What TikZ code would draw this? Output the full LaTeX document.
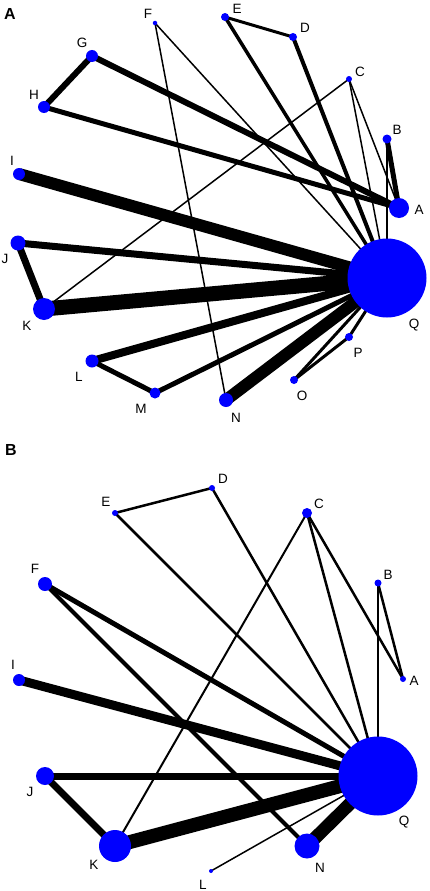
\documentclass[tikz,border=0pt]{standalone}
\usepackage{fontspec}
\setmainfont{Liberation Sans}
\begin{document}
\begin{tikzpicture}[x=1pt,y=-1pt,
  nd/.style={circle,fill={rgb,255:red,0;green,0;blue,255},inner sep=0pt,minimum size=#1},
  lbl/.style={font=\fontsize{13.5}{13.5}\selectfont,inner sep=0pt},
  plbl/.style={font=\fontsize{16}{16}\selectfont\bfseries,inner sep=0pt},
  ed/.style={line width=#1,black}]
\useasboundingbox (0,0) rectangle (429,891);
% ---------------- Panel A ----------------
\node[plbl] (pA) at (10,14) {A};
\coordinate (aA) at (399,208);
\coordinate (aB) at (387,139);
\coordinate (aC) at (349,79);
\coordinate (aD) at (293,37);
\coordinate (aE) at (225,17);
\coordinate (aF) at (155,23);
\coordinate (aG) at (92,56);
\coordinate (aH) at (44,107);
\coordinate (aI) at (19,174);
\coordinate (aJ) at (18,243);
\coordinate (aK) at (44,309);
\coordinate (aL) at (92,361);
\coordinate (aM) at (155,393);
\coordinate (aN) at (226,400);
\coordinate (aO) at (294,380);
\coordinate (aP) at (349,337);
\coordinate (aQ) at (387,278);
\draw[ed=1.5] (aF) -- (aN);
\draw[ed=1.5] (aF) -- (aQ);
\draw[ed=1.5] (aC) -- (aK);
\draw[ed=1.5] (aC) -- (aQ);
\draw[ed=1.5] (aC) -- (aA);
\draw[ed=6] (aG) -- (aH);
\draw[ed=6] (aG) -- (aA);
\draw[ed=5] (aH) -- (aA);
\draw[ed=3] (aE) -- (aD);
\draw[ed=3.5] (aE) -- (aQ);
\draw[ed=4] (aD) -- (aQ);
\draw[ed=5] (aB) -- (aA);
\draw[ed=2] (aB) -- (aQ);
\draw[ed=12] (aI) -- (aQ);
\draw[ed=7] (aJ) -- (aQ);
\draw[ed=7] (aJ) -- (aK);
\draw[ed=15] (aK) -- (aQ);
\draw[ed=8] (aL) -- (aQ);
\draw[ed=5] (aL) -- (aM);
\draw[ed=5] (aM) -- (aQ);
\draw[ed=12] (aN) -- (aQ);
\draw[ed=3] (aO) -- (aP);
\draw[ed=3] (aO) -- (aQ);
\draw[ed=3] (aP) -- (aQ);
\node[nd=20pt] (nA) at (aA) {};
\node[nd=9pt] (nB) at (aB) {};
\node[nd=6pt] (nC) at (aC) {};
\node[nd=8pt] (nD) at (aD) {};
\node[nd=8pt] (nE) at (aE) {};
\node[nd=4.5pt] (nF) at (aF) {};
\node[nd=12pt] (nG) at (aG) {};
\node[nd=12pt] (nH) at (aH) {};
\node[nd=12pt] (nI) at (aI) {};
\node[nd=15pt] (nJ) at (aJ) {};
\node[nd=22pt] (nK) at (aK) {};
\node[nd=13pt] (nL) at (aL) {};
\node[nd=11pt] (nM) at (aM) {};
\node[nd=14pt] (nN) at (aN) {};
\node[nd=8pt] (nO) at (aO) {};
\node[nd=8pt] (nP) at (aP) {};
\node[nd=79pt] (nQ) at (aQ) {};
\node[lbl] (tA) at (419,210) {A};
\node[lbl] (tB) at (397,130) {B};
\node[lbl] (tC) at (360,72) {C};
\node[lbl] (tD) at (305,28) {D};
\node[lbl] (tE) at (237,9) {E};
\node[lbl] (tF) at (148,14) {F};
\node[lbl] (tG) at (82,43) {G};
\node[lbl] (tH) at (34,95) {H};
\node[lbl] (tI) at (12,161) {I};
\node[lbl] (tJ) at (5,259) {J};
\node[lbl] (tK) at (27,326) {K};
\node[lbl] (tL) at (79,377) {L};
\node[lbl] (tM) at (141,409) {M};
\node[lbl] (tN) at (236,418) {N};
\node[lbl] (tO) at (302,396) {O};
\node[lbl] (tP) at (358,353) {P};
\node[lbl] (tQ) at (414,325) {Q};
% ---------------- Panel B ----------------
\node[plbl] (pB) at (11,450) {B};
\coordinate (bA) at (403,679);
\coordinate (bB) at (378,583);
\coordinate (bC) at (307,513);
\coordinate (bD) at (212,488);
\coordinate (bE) at (115,513);
\coordinate (bF) at (45,584);
\coordinate (bI) at (19,680);
\coordinate (bJ) at (45,776);
\coordinate (bK) at (115,846);
\coordinate (bL) at (211,871);
\coordinate (bN) at (307,846);
\coordinate (bQ) at (378,776);
\draw[ed=2.5] (bE) -- (bD);
\draw[ed=2.5] (bE) -- (bQ);
\draw[ed=2.5] (bD) -- (bQ);
\draw[ed=2] (bC) -- (bK);
\draw[ed=2.5] (bC) -- (bQ);
\draw[ed=2.5] (bC) -- (bA);
\draw[ed=2.5] (bB) -- (bQ);
\draw[ed=2.5] (bB) -- (bA);
\draw[ed=5] (bF) -- (bQ);
\draw[ed=4] (bF) -- (bN);
\draw[ed=9] (bI) -- (bQ);
\draw[ed=7] (bJ) -- (bQ);
\draw[ed=7] (bJ) -- (bK);
\draw[ed=14] (bK) -- (bQ);
\draw[ed=1.5] (bL) -- (bQ);
\draw[ed=13] (bN) -- (bQ);
\node[nd=6pt] (mA) at (bA) {};
\node[nd=7pt] (mB) at (bB) {};
\node[nd=10pt] (mC) at (bC) {};
\node[nd=6pt] (mD) at (bD) {};
\node[nd=6pt] (mE) at (bE) {};
\node[nd=14pt] (mF) at (bF) {};
\node[nd=12pt] (mI) at (bI) {};
\node[nd=18pt] (mJ) at (bJ) {};
\node[nd=32pt] (mK) at (bK) {};
\node[nd=4pt] (mL) at (bL) {};
\node[nd=25pt] (mN) at (bN) {};
\node[nd=79pt] (mQ) at (bQ) {};
\node[lbl] (sA) at (414,681) {A};
\node[lbl] (sB) at (388,575) {B};
\node[lbl] (sC) at (319,504) {C};
\node[lbl] (sD) at (223,479) {D};
\node[lbl] (sE) at (106,502) {E};
\node[lbl] (sF) at (35,569) {F};
\node[lbl] (sI) at (13,665) {I};
\node[lbl] (sJ) at (30,792) {J};
\node[lbl] (sK) at (94,865) {K};
\node[lbl] (sL) at (203,885) {L};
\node[lbl] (sN) at (320,868) {N};
\node[lbl] (sQ) at (404,822) {Q};
\end{tikzpicture}
\end{document}
